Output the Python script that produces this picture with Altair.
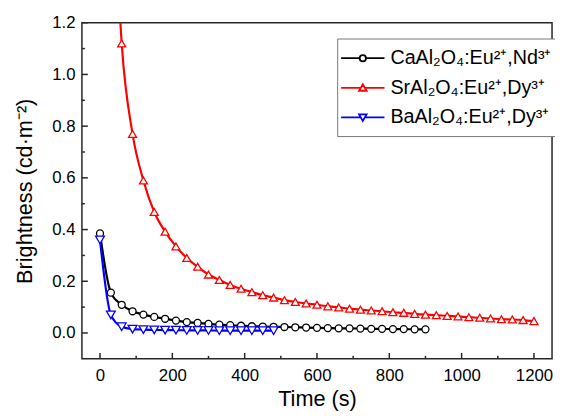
import altair as alt
import pandas as pd

# ---------------- data ----------------
series_names = ["CaAl₂O₄:Eu²⁺,Nd³⁺", "SrAl₂O₄:Eu²⁺,Dy³⁺", "BaAl₂O₄:Eu²⁺,Dy³⁺"]
series_colors = ["#000000", "#ff0000", "#0000ff"]

t_ca = list(range(0, 901, 30))
b_ca = [0.385, 0.156, 0.109, 0.084, 0.071, 0.062, 0.055, 0.048, 0.042, 0.039,
        0.035, 0.032, 0.030, 0.028, 0.026, 0.025, 0.024, 0.023, 0.022, 0.021,
        0.020, 0.019, 0.018, 0.018, 0.017, 0.016, 0.016, 0.015, 0.015, 0.014,
        0.014]

t_sr = list(range(30, 1201, 30))
b_sr = [2.0, 1.12, 0.77, 0.59, 0.468, 0.392, 0.335, 0.29, 0.256, 0.226,
        0.205, 0.186, 0.171, 0.158, 0.146, 0.137, 0.127, 0.120, 0.114, 0.109,
        0.103, 0.099, 0.094, 0.090, 0.087, 0.084, 0.080, 0.078, 0.074, 0.071,
        0.069, 0.066, 0.064, 0.061, 0.059, 0.056, 0.053, 0.052, 0.050, 0.046]

t_ba = list(range(0, 481, 30))
b_ba = [0.36, 0.070, 0.024, 0.015, 0.013, 0.012, 0.011, 0.011, 0.010, 0.010,
        0.010, 0.009, 0.009, 0.009, 0.009, 0.009, 0.009]

x_major = [0, 200, 400, 600, 800, 1000, 1200]
x_minor = [100, 300, 500, 700, 900, 1100]
y_major = [0.0, 0.2, 0.4, 0.6, 0.8, 1.0, 1.2]
y_minor = [0.1, 0.3, 0.5, 0.7, 0.9, 1.1]

# legend symbols: line + marker (unit coordinates)
legend_paths = [
    "M-2.2,0H-0.32M0.32,0H2.2M0.32,0A0.32,0.32 0 1,1 -0.32,0A0.32,0.32 0 1,1 0.32,0Z",
    "M-2.2,0H-0.2M0.2,0H2.2M0,-0.36L0.38,0.3L-0.38,0.3Z",
    "M-2.2,0H-0.2M0.2,0H2.2M0,0.36L0.38,-0.3L-0.38,-0.3Z",
]

rows = []
for name, ts, bs in zip(series_names, [t_ca, t_sr, t_ba], [b_ca, b_sr, b_ba]):
    for t, b in zip(ts, bs):
        rows.append({"series": name, "t": t, "b": b})
df = pd.DataFrame(rows)

FONT = "Liberation Sans"
W, H = 477, 341

xscale = alt.Scale(domain=[-50, 1250], nice=False, zero=False)
yscale = alt.Scale(domain=[-0.1, 1.2], nice=False, zero=False)
color_scale = alt.Scale(domain=series_names, range=series_colors)

xaxis = alt.Axis(values=x_major, title="Time (s)", ticks=False, domain=False,
                 grid=False, labelPadding=9, titlePadding=5, format="d")
yaxis = alt.Axis(values=y_major, title="Brightness (cd·m⁻²)", ticks=False,
                 domain=False, grid=False, format=".1f", labelPadding=7,
                 titlePadding=16)

base = alt.Chart(df)

lines = base.mark_line(strokeWidth=2.2, interpolate="monotone", clip=True).encode(
    x=alt.X("t:Q", scale=xscale, axis=xaxis),
    y=alt.Y("b:Q", scale=yscale, axis=yaxis),
    color=alt.Color("series:N", scale=color_scale, legend=None),
    detail="series:N",
)

points = base.mark_point(filled=False, fill="white", strokeWidth=1.3, clip=True, opacity=1).encode(
    x=alt.X("t:Q", scale=xscale, axis=xaxis),
    y=alt.Y("b:Q", scale=yscale, axis=yaxis),
    stroke=alt.Stroke("series:N", scale=color_scale, legend=None),
    shape=alt.Shape("series:N", scale=alt.Scale(domain=series_names,
                    range=["circle", "triangle-up", "triangle-down"]), legend=None),
    size=alt.Size("series:N", scale=alt.Scale(domain=series_names, range=[50, 80, 80]),
                  legend=None),
)

leg = alt.Legend(orient="none", legendX=259, legendY=16, title=None,
                 labelFont=FONT, labelFontSize=20, labelColor="#000", labelLimit=0,
                 symbolSize=400, symbolStrokeWidth=1.8, symbolOffset=6,
                 symbolOpacity=1, labelOffset=17,
                 rowPadding=9, padding=9, strokeColor="#777", fillColor="white")

# legend carrier layer: no marks drawn (all rows filtered), legend from explicit domains
legend_layer = base.transform_filter("datum.t < -1000").mark_point(
    filled=False, strokeWidth=1.8, opacity=1).encode(
    x=alt.X("t:Q", scale=xscale, axis=xaxis),
    y=alt.Y("b:Q", scale=yscale, axis=yaxis),
    color=alt.Color("series:N", scale=alt.Scale(domain=series_names, range=series_colors),
                    legend=leg),
    shape=alt.Shape("series:N", scale=alt.Scale(domain=series_names, range=legend_paths),
                    legend=leg),
)

tick_col = "#262626"
def xticks(vals, length):
    return alt.Chart(pd.DataFrame({"t": vals})).mark_rule(color=tick_col, strokeWidth=1.5).encode(
        x=alt.X("t:Q", scale=xscale, axis=xaxis), y=alt.value(H), y2=alt.value(H - length))

def yticks(vals, length):
    return alt.Chart(pd.DataFrame({"b": vals})).mark_rule(color=tick_col, strokeWidth=1.5).encode(
        y=alt.Y("b:Q", scale=yscale, axis=yaxis), x=alt.value(0), x2=alt.value(length))

chart = alt.layer(
    lines, points, xticks(x_major, 6), xticks(x_minor, 3),
    yticks(y_major, 6), yticks(y_minor, 3), legend_layer
).resolve_scale(shape="independent", color="independent").properties(
    width=W, height=H,
    background="white",
    autosize=alt.AutoSizeParams(type="none"),
    padding={"left": 75, "top": 12, "right": 3, "bottom": 51},
).configure_view(
    stroke=tick_col, strokeWidth=1.5
).configure_axis(
    labelFont=FONT, labelFontSize=17, labelColor="#000",
    titleFont=FONT, titleFontSize=22, titleFontWeight="normal", titleColor="#000",
)

chart.save("out.html", embed_options={"renderer": "svg", "actions": False})
